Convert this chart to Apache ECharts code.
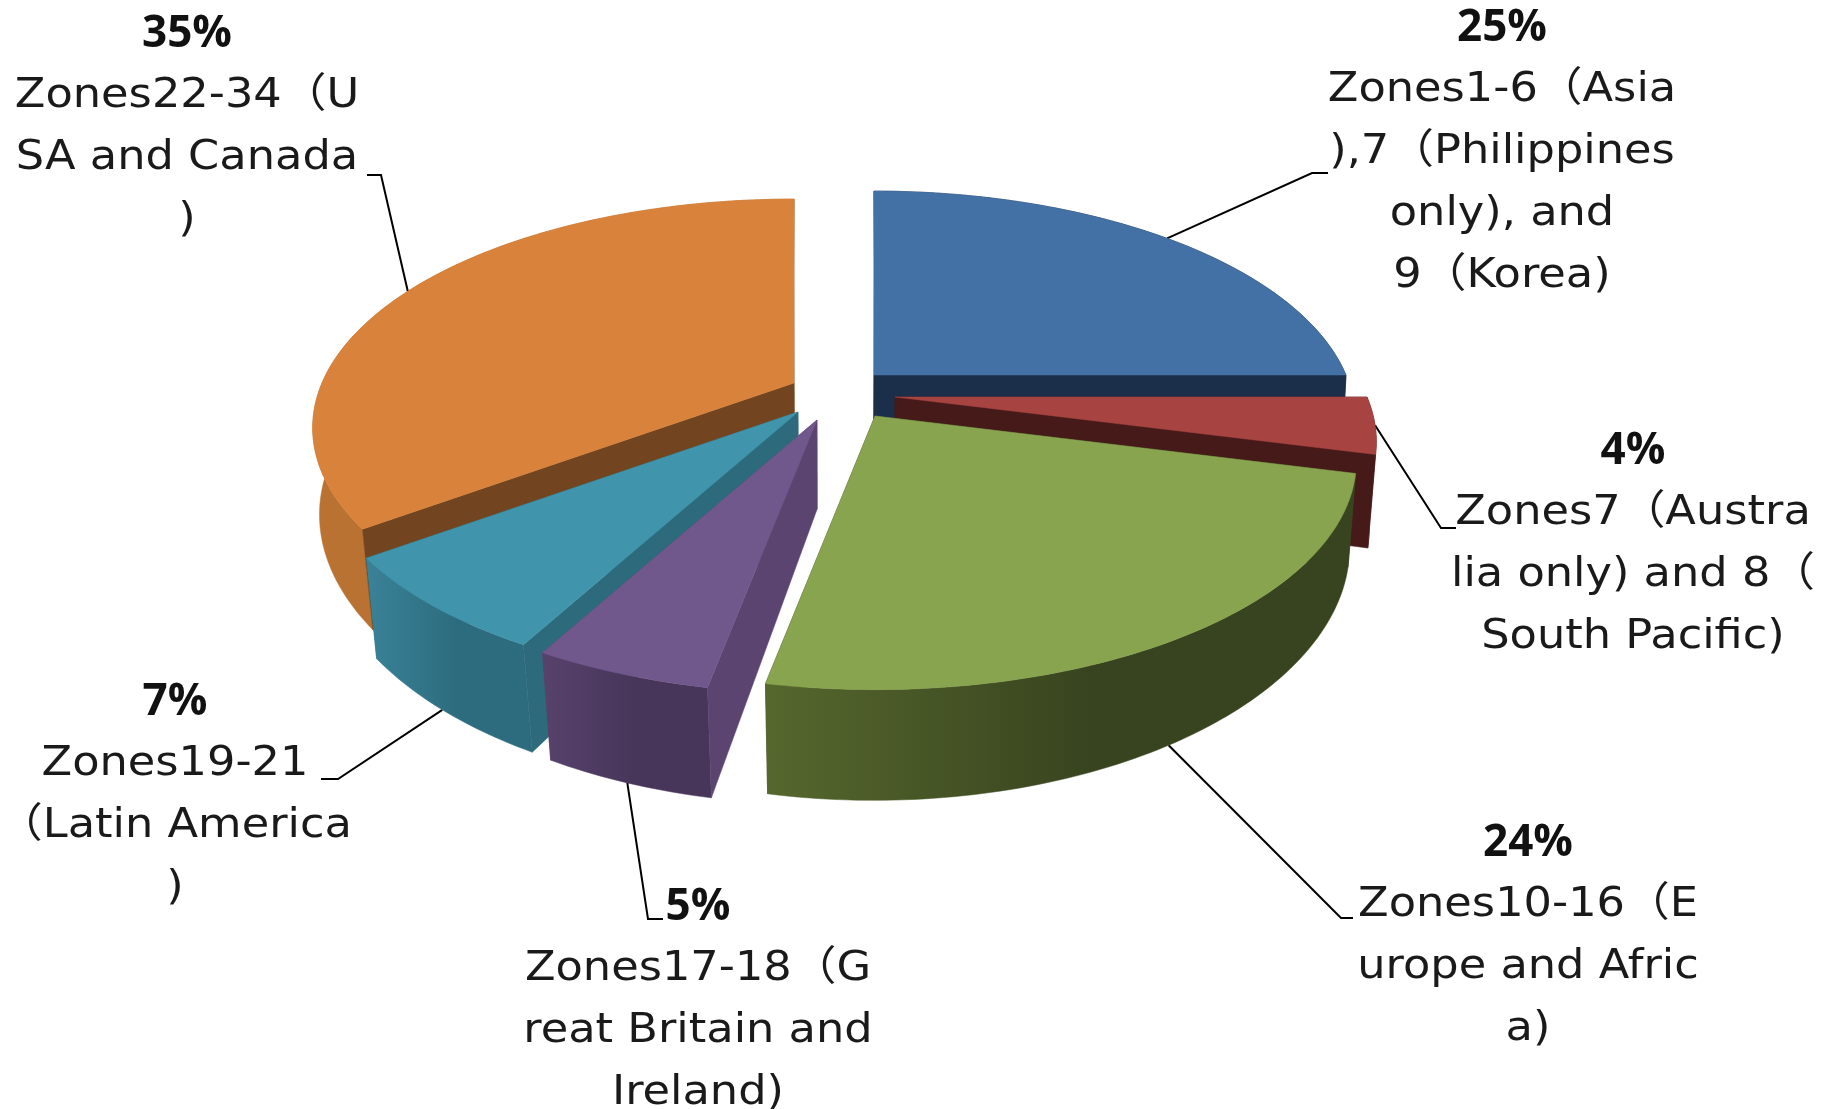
<!DOCTYPE html>
<html>
<head>
<meta charset="utf-8">
<style>
  html, body { margin: 0; padding: 0; background: #fff; }
  #chart { width: 1829px; height: 1109px; }
</style>
<script src="https://cdn.jsdelivr.net/npm/echarts@6/dist/echarts.min.js"></script>
</head>
<body>
<div id="chart"></div>
<script>
// data, in order round the pie, clockwise from 12 o'clock
const zoneNames = [
  "Zones1-6（Asia\n),7（Philippines\nonly), and\n9（Korea)",
  "Zones7（Austra\nlia only) and 8（\nSouth Pacific)",
  "Zones10-16（E\nurope and Afric\na)",
  "Zones17-18（G\nreat Britain and\nIreland)",
  "Zones19-21\n（Latin America\n)",
  "Zones22-34（U\nSA and Canada\n)"
];
const zoneShares = [25, 4, 24, 5, 7, 35];

// colours per slice
const topColors = ["#4471a5", "#a74442", "#88a44e", "#71588c", "#4095ad", "#d9823b"];
const wallColors = ["#1c2f4a", "#451a19", "#384420", "#5b4570", "#2d6a7c", "#724520"];
const rimColors = [
  ["#1c2f4a", "#1c2f4a"],
  ["#451a19", "#451a19"],
  ["#56672d", "#38441f"],
  ["#57426c", "#47355a"],
  ["#3a8298", "#2d6c7e"],
  ["#ba7233", "#ba7233"]
];
// how far each slice is pulled out of the pie
const explodeX = [39, 60, 40, -18, -37, -41];
const explodeY = [-20, 2, 21, 25, 17, -12];

// label layout: centre x, y of the % line, and where the leader line ends
const labelX = [1502, 1633, 1528, 698, 175, 187];
const labelY = [28, 451, 843, 907, 702, 34];
const leaderElbow = [[1312, 173], [1441, 528], [1341, 918], [648, 919], [338, 779], [381, 175]];
const leaderEnd = [[1328, 173], [1456, 528], [1353, 918], [663, 919], [321, 779], [367, 175]];

// pie geometry (a flat disc seen in perspective)
const CX = 835, CY = 395, RX = 472, RY = 220, PERSP = 0.196, DEPTH = 89;
const LINE_H = 62;

const total = zoneShares.reduce((a, b) => a + b, 0);
let acc = 0;
const slices = zoneShares.map((v, i) => {
  let a0 = acc / total * Math.PI * 2;
  acc += v;
  let a1 = acc / total * Math.PI * 2;
  return { a0, a1, mid: (a0 + a1) / 2, ax: CX + explodeX[i], ay: CY + explodeY[i] };
});

// point on the top face, r = 0 apex, r = 1 rim
function topPoint(s, ang, r) {
  let u = Math.sin(ang) * r, v = Math.cos(ang) * r;
  let w = 1 + PERSP * v;
  return [s.ax + RX * u / w, s.ay - RY * v / w, w];
}
// same point on the bottom face, pulled in more towards the front
function dropPoint(p) {
  let k = 0.991 + 0.112 * (p[2] - 1);
  return [CX + (p[0] - CX) * k, p[1] + DEPTH / p[2], p[2]];
}
function arcPoints(s) {
  let pts = [];
  let n = Math.ceil((s.a1 - s.a0) / (Math.PI / 180));
  for (let k = 0; k <= n; k++) pts.push(topPoint(s, s.a0 + (s.a1 - s.a0) * k / n, 1));
  return pts;
}
function poly(points, fill, z2) {
  return {
    type: "polygon", z2,
    shape: { points: points.map(p => [p[0], p[1]]) },
    style: { fill, stroke: fill, lineWidth: 0.5 }
  };
}
function signedArea(pts) {
  let sum = 0;
  pts.forEach((p, k) => {
    let q = pts[(k + 1) % pts.length];
    sum += p[0] * q[1] - q[0] * p[1];
  });
  return sum;
}

// paint back to front
const rank = slices.map(s => -Math.cos(s.mid));
const paintOrder = rank.map((r, i) => [r, i]).sort((a, b) => a[0] - b[0]).map(x => x[1]);

function renderSlice(params) {
  let i = params.dataIndex, s = slices[i];
  let z = paintOrder.indexOf(i) * 10;
  let arc = arcPoints(s);
  let apex = topPoint(s, 0, 0);
  let first = arc[0], last = arc[arc.length - 1];
  let rimFill = new echarts.graphic.LinearGradient(0, 0, 1, 0, [
    { offset: 0, color: rimColors[i][0] },
    { offset: 0.55, color: rimColors[i][1] },
    { offset: 1, color: rimColors[i][1] }
  ]);
  let wallA = [apex, first, dropPoint(first), dropPoint(apex)];
  let wallB = [apex, last, dropPoint(last), dropPoint(apex)];
  // walls turned towards us go over the rim, the others under it
  let zA = signedArea(wallA) < 0 ? z + 2 : z;
  let zB = signedArea(wallB) > 0 ? z + 2 : z;
  return {
    type: "group",
    children: [
      poly(wallA, wallColors[i], zA),
      poly(wallB, wallColors[i], zB),
      poly(arc.concat(arc.map(dropPoint).reverse()), rimFill, z + 1),
      poly([apex].concat(arc), topColors[i], z + 3)
    ]
  };
}

function renderLeader(params) {
  let i = params.dataIndex, s = slices[i];
  let p = topPoint(s, s.mid, 1);
  // front slices hang the line off the bottom of the rim
  if (Math.cos(s.mid) < -0.5) p = dropPoint(p);
  return {
    type: "polyline",
    shape: { points: [[p[0], p[1]], leaderElbow[i], leaderEnd[i]] },
    style: { stroke: "#000", lineWidth: 2, fill: null }
  };
}

function renderLabel(params) {
  let i = params.dataIndex;
  return {
    type: "group",
    children: [
      {
        type: "text",
        style: {
          x: labelX[i], y: labelY[i], text: zoneShares[i] + "%",
          align: "center", verticalAlign: "middle", fill: "#111",
          font: 'bold 44px "Open Sans", "Noto Sans"'
        }
      },
      {
        type: "text",
        x: labelX[i], y: labelY[i] + LINE_H / 2,
        scaleX: 1.09,
        style: {
          x: 0, y: 0, text: zoneNames[i],
          align: "center", verticalAlign: "top", fill: "#1a1a1a",
          lineHeight: LINE_H,
          font: '41px "DejaVu Sans", "Noto Sans CJK JP"'
        }
      }
    ]
  };
}

const seriesData = zoneShares.map((v, i) => ({ name: zoneNames[i], value: v }));
const chart = echarts.init(document.getElementById("chart"));
chart.setOption({
  backgroundColor: "#fff",
  animation: false,
  series: [
    { type: "custom", coordinateSystem: "none", z: 1, silent: true, renderItem: renderLeader, data: seriesData },
    { type: "custom", coordinateSystem: "none", z: 2, silent: true, renderItem: renderSlice, data: seriesData },
    { type: "custom", coordinateSystem: "none", z: 3, silent: true, renderItem: renderLabel, data: seriesData }
  ]
});
</script>
</body>
</html>
